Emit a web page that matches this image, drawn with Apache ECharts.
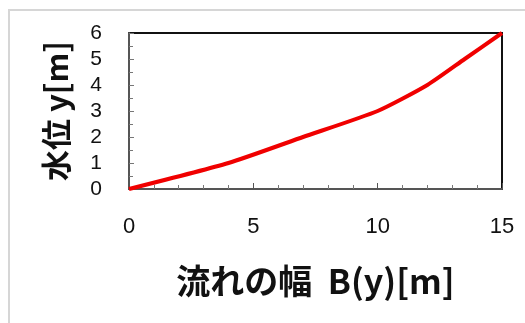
<!DOCTYPE html>
<html><head><meta charset="utf-8">
<script src="https://cdn.jsdelivr.net/npm/echarts@6/dist/echarts.min.js"></script>
<style>html,body{margin:0;padding:0;background:#fff}#c{width:525px;height:323px}
#frame{position:absolute;left:8px;top:9px;width:530px;height:330px;border:2px solid #d6d6d6;box-sizing:border-box;pointer-events:none}</style>
</head><body><div id="c"></div><div id="frame"></div>
<script>
const widthB = [0, 4, 7, 10, 12, 13.5, 15];
const levelY = [0, 1, 2, 3, 4, 5, 6];
const xTicks = [0, 5, 10, 15];
const yTicks = [0, 1, 2, 3, 4, 5, 6];
const xTitle = '流れの幅  B(y)[m]';
const yTitle = '水位 y[m]';

const chart = echarts.init(document.getElementById('c'));
chart.setOption({
  animation: false,
  grid: {left: 129, right: 23, top: 33, bottom: 134, show: true, borderColor: '#111', borderWidth: 2},
  xAxis: {
    type: 'value', min: 0, max: 15, interval: 5,
    name: xTitle, nameLocation: 'middle', nameGap: 75,
    nameTextStyle: {fontFamily: 'Noto Sans CJK JP', fontWeight: 'bold', fontSize: 34, color: '#111'},
    axisLine: {show: true, lineStyle: {color: '#555', width: 2}},
    axisTick: {show: true, inside: true, length: 6, lineStyle: {color: '#555', width: 1}},
    minorTick: {show: true, splitNumber: 5, length: 4, lineStyle: {color: '#777'}},
    splitLine: {show: false},
    axisLabel: {fontFamily: 'Liberation Sans', fontSize: 22, color: '#111', margin: 27,
      formatter: v => xTicks.includes(v) ? String(v) : ''}
  },
  yAxis: {
    type: 'value', min: 0, max: 6, interval: 1,
    name: yTitle, nameLocation: 'middle', nameGap: 57, nameRotate: 90,
    nameTextStyle: {fontFamily: 'Noto Sans CJK JP', fontWeight: 'bold', fontSize: 31, color: '#111'},
    axisLine: {show: true, lineStyle: {color: '#555', width: 2}},
    axisTick: {show: true, inside: true, length: 5, lineStyle: {color: '#777'}},
    minorTick: {show: true, splitNumber: 2, length: 4, lineStyle: {color: '#777'}},
    splitLine: {show: false},
    axisLabel: {fontFamily: 'Liberation Sans', fontSize: 21, color: '#111', margin: 27,
      formatter: v => yTicks.includes(v) ? String(v) : ''}
  },
  series: [{
    type: 'line', data: widthB.map((b, i) => [b, levelY[i]]),
    showSymbol: false, smooth: 0.2,
    lineStyle: {color: '#f00000', width: 4}
  }]
});
</script></body></html>
